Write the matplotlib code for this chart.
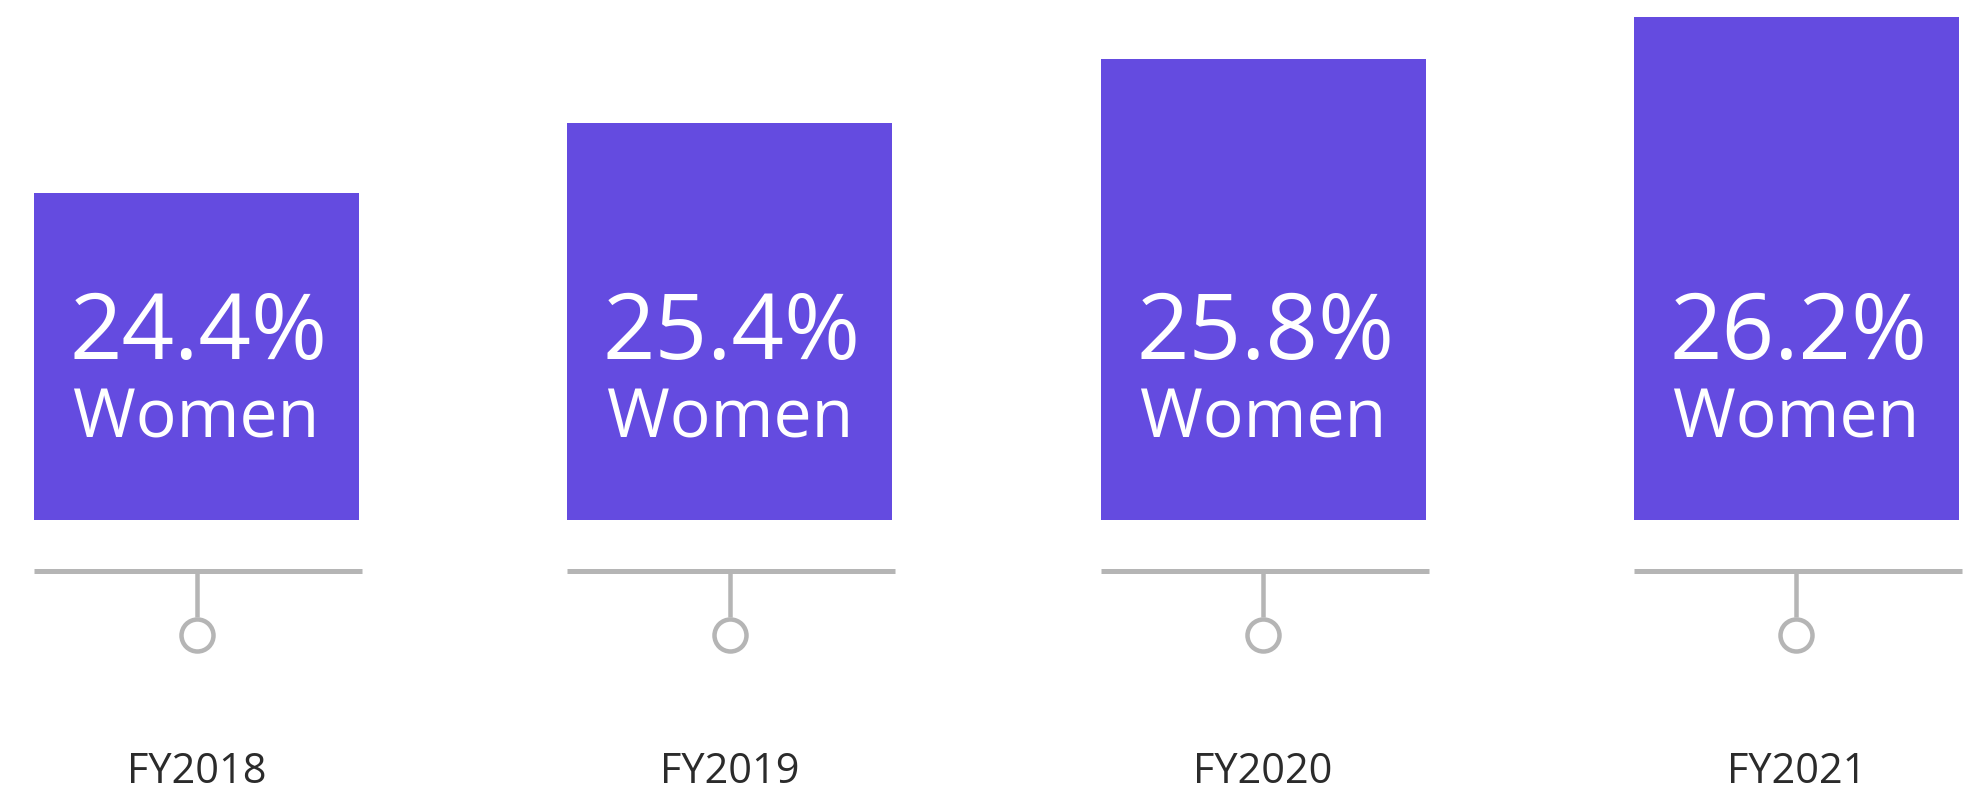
import matplotlib
matplotlib.use("Agg")
import matplotlib.pyplot as plt

# ---- data ----
categories = ["FY2018", "FY2019", "FY2020", "FY2021"]
pct_values = [24.4, 25.4, 25.8, 26.2]
pct_labels = ["24.4%", "25.4%", "25.8%", "26.2%"]
sub_label = "Women"
bar_heights = [327, 397, 461, 503]   # visual bar heights (px units)

# ---- style ----
BAR_COLOR = "#644BE0"
GREY = "#B5B5B5"
TEXT_DARK = "#2B2B2B"
FONT = ["Open Sans", "DejaVu Sans"]

W, H = 1977, 790
DPI = 100
fig = plt.figure(figsize=(W / DPI, H / DPI), dpi=DPI)
ax = fig.add_axes([0, 0, 1, 1])
ax.set_axis_off()

step = 533.33
x0 = 196.5
ax.set_xlim(-x0 / step, (W - x0) / step)
ax.set_ylim(-(H - 520), 520)

pt = 72 / DPI  # points per pixel
bw = 325 / step
xs = list(range(len(categories)))

ax.bar(xs, bar_heights, width=bw, color=BAR_COLOR, bottom=0, linewidth=0, zorder=2)

line_y = -51
stem_end = -97
circ_y = -115
for i, x in enumerate(xs):
    # horizontal baseline under each bar
    ax.plot([x - bw / 2, x + bw / 2 + 3 / step], [line_y, line_y], color=GREY,
            lw=5 * pt, solid_capstyle="butt", zorder=3)
    # stem
    ax.plot([x, x], [line_y, stem_end], color=GREY, lw=4.5 * pt,
            solid_capstyle="butt", zorder=3)
    # circle
    ax.plot([x], [circ_y], marker="o", markersize=32 * pt, markerfacecolor="white",
            markeredgecolor=GREY, markeredgewidth=4.5 * pt, zorder=4)
    # labels inside bar
    ax.text(x + 2 / step, 161, pct_labels[i], ha="center", va="baseline", color="white",
            fontsize=92 * pt, family=FONT, zorder=5)
    ax.text(x, 83, sub_label, ha="center", va="baseline", color="white",
            fontsize=68 * pt, family=FONT, zorder=5)
    # category label
    ax.text(x, -263, categories[i], ha="center", va="baseline", color=TEXT_DARK,
            fontsize=41.5 * pt, family=FONT, zorder=5)

fig.savefig("out.png", dpi=DPI, facecolor="white")
